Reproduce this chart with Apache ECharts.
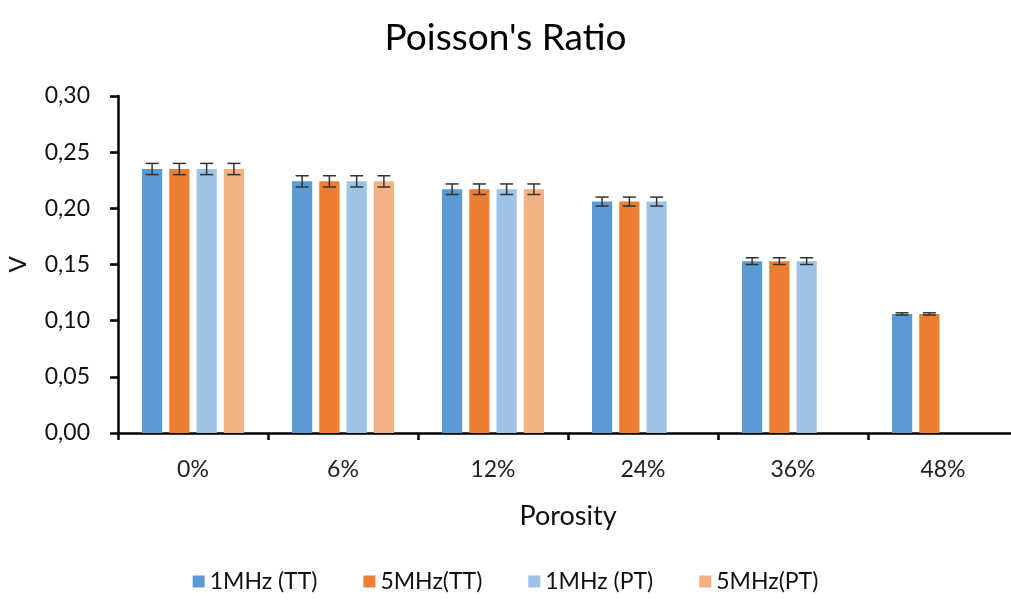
<!DOCTYPE html>
<html>
<head>
<meta charset="utf-8">
<script src="https://cdn.jsdelivr.net/npm/echarts@6/dist/echarts.min.js"></script>
<style>html,body{margin:0;padding:0;background:#fff}#c{width:1011px;height:605px}</style>
</head>
<body>
<div id="c"></div>
<script>
const categories = ['0%', '6%', '12%', '24%', '36%', '48%'];
const seriesNames = ['1MHz (TT)', '5MHz(TT)', '1MHz (PT)', '5MHz(PT)'];
const tt1MHz = [0.235, 0.224, 0.217, 0.206, 0.153, 0.106];
const tt5MHz = [0.235, 0.224, 0.217, 0.206, 0.153, 0.106];
const pt1MHz = [0.235, 0.224, 0.217, 0.206, 0.153, null];
const pt5MHz = [0.235, 0.224, 0.217, null, null, null];
const errTT1 = [0.005, 0.005, 0.0047, 0.004, 0.003, 0.001];
const errTT5 = [0.005, 0.005, 0.0047, 0.004, 0.003, 0.001];
const errPT1 = [0.005, 0.005, 0.0047, 0.004, 0.003, null];
const errPT5 = [0.005, 0.005, 0.0047, null, null, null];
const yTicks = [0, 0.05, 0.10, 0.15, 0.20, 0.25, 0.30];

const colors = ['#5B9BD5', '#ED7D31', '#9DC3E6', '#F4B183'];
const values = [tt1MHz, tt5MHz, pt1MHz, pt5MHz];
const errors = [errTT1, errTT5, errPT1, errPT5];

const CAT_GAP = 0.32, BAR_GAP = 0.35, N = 4;
const FONT = 'Lato, "Open Sans", sans-serif';

const series = [];
values.forEach((vals, i) => {
  series.push({
    name: seriesNames[i], type: 'bar', data: vals.map(v => v == null ? '-' : v),
    itemStyle: { color: colors[i] }, barGap: (BAR_GAP * 100) + '%', barCategoryGap: (CAT_GAP * 100) + '%'
  });
});
values.forEach((vals, i) => {
  const data = [];
  vals.forEach((v, k) => { if (v != null) data.push([k, v - errors[i][k], v + errors[i][k]]); });
  series.push({
    type: 'custom', silent: true, z: 10,
    encode: { x: 0, y: [1, 2] },
    data: data,
    renderItem: function (params, api) {
      const k = api.value(0);
      const lo = api.coord([k, api.value(1)]);
      const hi = api.coord([k, api.value(2)]);
      const bw = api.size([1, 0])[0];
      const usable = bw * (1 - CAT_GAP);
      const w = usable / (N + (N - 1) * BAR_GAP);
      const x = lo[0] - usable / 2 + i * w * (1 + BAR_GAP) + w / 2;
      const cap = 6.5;
      const st = { stroke: '#333', lineWidth: 1.5 };
      return { type: 'group', children: [
        { type: 'line', shape: { x1: x, y1: lo[1], x2: x, y2: hi[1] }, style: st },
        { type: 'line', shape: { x1: x - cap, y1: lo[1], x2: x + cap, y2: lo[1] }, style: st },
        { type: 'line', shape: { x1: x - cap, y1: hi[1], x2: x + cap, y2: hi[1] }, style: st }
      ]};
    }
  });
});

const chart = echarts.init(document.getElementById('c'));
chart.setOption({
  animation: false,
  backgroundColor: '#fff',
  title: { text: "Poisson's Ratio", left: 'center', top: 15,
    textStyle: { fontFamily: FONT, fontSize: 37, fontWeight: 'normal', color: '#000' } },
  legend: { bottom: 7, left: 'center', itemWidth: 12, itemHeight: 12, itemGap: 46,
    icon: 'rect', data: seriesNames,
    textStyle: { fontFamily: FONT, fontSize: 23, color: '#111' } },
  grid: { left: 118, top: 96, width: 900, height: 337, containLabel: false, outerBoundsMode: 'none' },
  xAxis: {
    type: 'category', data: categories,
    name: 'Porosity', nameLocation: 'middle', nameGap: 70,
    nameTextStyle: { fontFamily: FONT, fontSize: 27, fontWeight: 'normal', color: '#111' },
    axisLine: { lineStyle: { color: '#000', width: 2.5 } },
    axisTick: { show: true, length: 7, lineStyle: { color: '#000', width: 2.5 } },
    axisLabel: { fontFamily: FONT, fontSize: 23, color: '#222', margin: 25 }
  },
  yAxis: {
    type: 'value', min: yTicks[0], max: yTicks[yTicks.length - 1], interval: 0.05,
    name: 'V', nameLocation: 'middle', nameGap: 88,
    nameTextStyle: { fontFamily: FONT, fontSize: 24, fontWeight: 'normal', color: '#111' },
    axisLine: { show: true, lineStyle: { color: '#000', width: 2.5 } },
    axisTick: { show: true, length: 8, lineStyle: { color: '#000', width: 2.5 } },
    splitLine: { show: false },
    axisLabel: { fontFamily: FONT, fontSize: 23, color: '#111', margin: 28,
      formatter: v => v.toFixed(2).replace('.', ',') }
  },
  series: series
});
</script>
</body>
</html>
